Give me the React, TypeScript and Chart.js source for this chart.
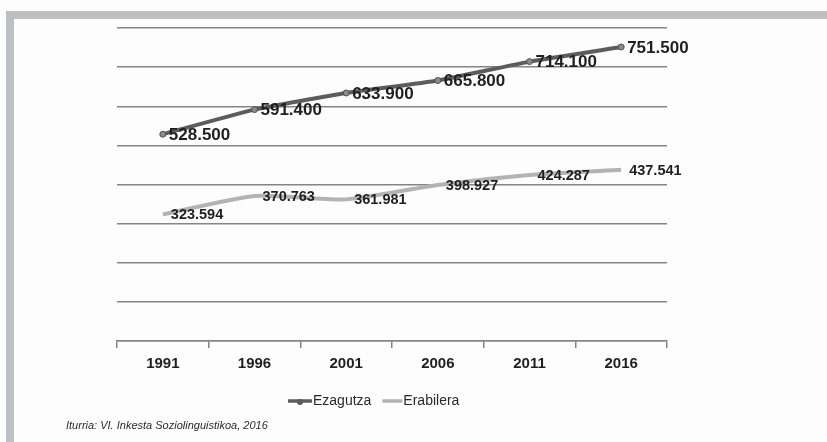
import React, { useEffect, useRef } from "react";
import { Chart, registerables } from "chart.js";

Chart.register(...registerables);

const years = ["1991", "1996", "2001", "2006", "2011", "2016"];
const ezagutza = [528.5, 591.4, 633.9, 665.8, 714.1, 751.5];
const erabilera = [323.594, 370.763, 361.981, 398.927, 424.287, 437.541];
const ezagutzaLabels = ["528.500", "591.400", "633.900", "665.800", "714.100", "751.500"];
const erabileraLabels = ["323.594", "370.763", "361.981", "398.927", "424.287", "437.541"];
const seriesNames = ["Ezagutza", "Erabilera"];
const source = "Iturria: VI. Inkesta Soziolinguistikoa, 2016";

const FONT = "'Liberation Sans', Arial, sans-serif";

const valueLabelsPlugin = {
  id: "valueLabels",
  afterDatasetsDraw(chart: any) {
    const ctx = chart.ctx;
    const sets = [
      { idx: 0, labels: ezagutzaLabels, size: 17, dx: 6, dy: 1 },
      { idx: 1, labels: erabileraLabels, size: 14.5, dx: 8, dy: 1 },
    ];
    ctx.save();
    ctx.fillStyle = "#1f1f1f";
    ctx.textAlign = "left";
    ctx.textBaseline = "middle";
    sets.forEach((s) => {
      const meta = chart.getDatasetMeta(s.idx);
      ctx.font = `bold ${s.size}px ${FONT}`;
      meta.data.forEach((pt: any, i: number) => {
        ctx.fillText(s.labels[i], pt.x + s.dx, pt.y + s.dy);
      });
    });
    ctx.restore();
  },
};

const legendPlugin = {
  id: "customLegend",
  afterDraw(chart: any) {
    const ctx = chart.ctx;
    const y = 382;
    let x = 274;
    ctx.save();
    ctx.font = `14px ${FONT}`;
    ctx.textBaseline = "middle";
    ctx.textAlign = "left";
    chart.data.datasets.forEach((ds: any, i: number) => {
      const w = i === 0 ? 24 : 20;
      ctx.strokeStyle = ds.borderColor;
      ctx.lineWidth = 3.5;
      ctx.beginPath();
      ctx.moveTo(x, y);
      ctx.lineTo(x + w, y);
      ctx.stroke();
      if (i === 0) {
        ctx.fillStyle = "#5a5a5a";
        ctx.beginPath();
        ctx.arc(x + w / 2, y + 1, 3, 0, Math.PI * 2);
        ctx.fill();
      }
      x += w + 1;
      ctx.fillStyle = "#2a2a2a";
      ctx.fillText(ds.label, x, y);
      x += ctx.measureText(ds.label).width + 11;
    });
    ctx.restore();
  },
};

export default function App() {
  const ref = useRef<HTMLCanvasElement>(null);
  useEffect(() => {
    if (!ref.current) return;
    const chart = new Chart(ref.current, {
      type: "line",
      data: {
        labels: years,
        datasets: [
          {
            label: seriesNames[0],
            data: ezagutza,
            borderColor: "#5c5c5c",
            borderWidth: 4,
            pointRadius: 3,
            pointBackgroundColor: "#8a8a8a",
            pointBorderColor: "#505050",
            pointBorderWidth: 1,
            tension: 0.15,
          },
          {
            label: seriesNames[1],
            data: erabilera,
            borderColor: "#b3b3b3",
            borderWidth: 4,
            pointRadius: 0,
            tension: 0.2,
          },
        ],
      },
      options: {
        animation: false,
        responsive: false,
        maintainAspectRatio: false,
        layout: { padding: { top: 9, right: 70, left: 0, bottom: 39 } },
        plugins: { legend: { display: false }, tooltip: { enabled: false } },
        scales: {
          x: {
            offset: true,
            grid: {
              offset: true,
              drawOnChartArea: false,
              drawTicks: true,
              tickLength: 7,
              color: "#858585",
              lineWidth: 1.5,
            },
            border: { display: true, color: "#858585", width: 1.5 },
            ticks: {
              padding: 7,
              color: "#1f1f1f",
              font: { family: FONT, size: 15, weight: "bold" },
            },
          },
          y: {
            min: 0,
            max: 800,
            afterFit(scale: any) {
              scale.width = 103;
            },
            ticks: { display: false, stepSize: 100 },
            grid: { color: "#858585", lineWidth: 1.5, drawTicks: false },
            border: { display: false },
          },
        },
      },
      plugins: [valueLabelsPlugin, legendPlugin],
    } as any);
    return () => chart.destroy();
  }, []);

  return (
    <div
      style={{
        position: "absolute",
        left: 0,
        top: 0,
        width: 827,
        height: 442,
        background: "#fdfdfd",
        overflow: "hidden",
      }}
    >
      <div style={{ position: "absolute", left: 6, top: 11, width: 821, height: 8, background: "#bdbfc3" }} />
      <div style={{ position: "absolute", left: 6, top: 11, width: 8, height: 431, background: "#bdbfc3" }} />
      <canvas
        ref={ref}
        width={723}
        height={400}
        style={{ position: "absolute", left: 14, top: 19, width: 723, height: 400 }}
      />
      <div
        style={{
          position: "absolute",
          left: 66,
          top: 418,
          fontFamily: FONT,
          fontStyle: "italic",
          fontSize: 11,
          lineHeight: "14px",
          color: "#2a2a2a",
          whiteSpace: "nowrap",
        }}
      >
        {source}
      </div>
    </div>
  );
}
